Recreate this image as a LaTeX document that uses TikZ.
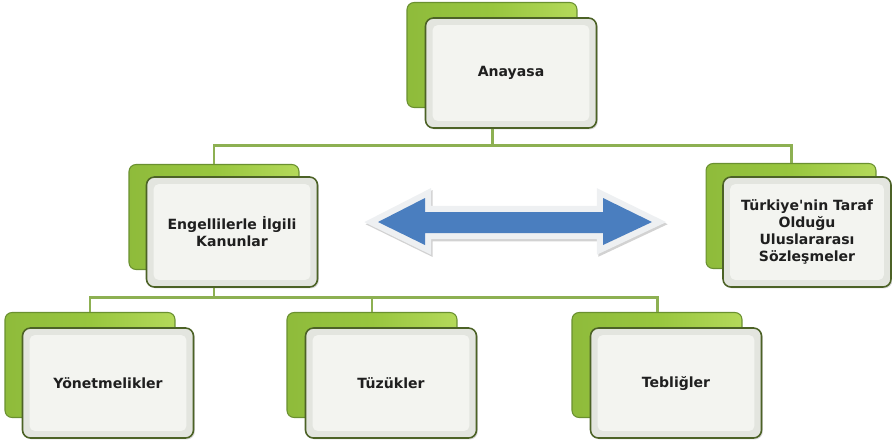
\documentclass[tikz,border=0pt]{standalone}
\usepackage{fontspec}
\setmainfont{DejaVu Sans}[Ligatures=TeXOff]
\usetikzlibrary{shadows}
\definecolor{leafgreen}{HTML}{98C63E}
\definecolor{leafdark}{HTML}{6A9030}
\definecolor{leaflight}{HTML}{B4D95A}
\definecolor{rimolive}{HTML}{4C6226}
\definecolor{paneledge}{HTML}{E3E5DF}
\definecolor{paneface}{HTML}{F3F4F0}
\definecolor{linkgreen}{HTML}{8DB052}
\definecolor{arrowblue}{HTML}{4A7EBF}
\definecolor{arrowrim}{HTML}{EEF0F2}
\tikzset{
  back/.style={draw=leafdark, line width=0.6pt, rounded corners=4pt,
    left color=leafgreen!80!leafdark, right color=leaflight, middle color=leafgreen,
    minimum width=3.40cm, minimum height=2.10cm},
  panel/.style={draw=rimolive, line width=0.9pt, rounded corners=4.5pt, fill=paneledge,
    minimum width=3.42cm, minimum height=2.20cm, align=center,
    font=\fontsize{8}{9.6}\selectfont\bfseries, text=black!88,
    drop shadow={opacity=0.3, shadow xshift=0.8pt, shadow yshift=-0.8pt},
    path picture={\fill[paneface, rounded corners=3pt]
      ([shift={(4pt,-4pt)}]path picture bounding box.north west) rectangle
      ([shift={(-4pt,4pt)}]path picture bounding box.south east);}},
  link/.style={draw=linkgreen, line width=1.7pt}
}
\begin{document}
\begin{tikzpicture}[x=0.02cm, y=-0.02cm]
  \useasboundingbox (0,0) rectangle (892,444);
  % green backs
  \draw
    (492,55) node[back] (anaBack) {}
    (214,217) node[back] (engBack) {}
    (791,216) node[back] (trBack) {}
    (90,365) node[back] (yonBack) {}
    (372,365) node[back] (tuzBack) {}
    (657,365) node[back] (tebBack) {};
  \coordinate (topBus) at (492,145);
  \coordinate (lowBus) at (214,297);
  \begin{scope}[link]
    \draw (anaBack.south) -- (topBus);
    \draw (topBus) -| (engBack.north);
    \draw (topBus) -| (trBack.north);
    \draw (engBack.south) -- (lowBus);
    \draw (lowBus) -| (yonBack.north);
    \draw (lowBus) -| (tuzBack.north);
    \draw (lowBus) -| (tebBack.north);
  \end{scope}
  % white panels
  \draw
    (511,73) node[panel] (ana) {Anayasa}
    (232,232) node[panel] (eng) {Engellilerle İlgili\\Kanunlar}
    (807,232) node[panel, minimum width=3.36cm] (tr) {Türkiye'nin Taraf\\Olduğu\\Uluslararası\\Sözleşmeler}
    (108,383) node[panel] (yon) {Yönetmelikler}
    (391,383) node[panel] (tuz) {Tüzükler}
    (676,383) node[panel] (teb) {Tebliğler};
  % double arrow
  \path[fill=arrowblue,
    preaction={draw=gray!35, line width=7pt, line join=miter, transform canvas={shift={(0.8pt,-1.2pt)}}},
    preaction={draw=arrowrim, line width=7pt, line join=miter}]
    (378,222) -- (425,198) -- (425,212) -- (603,212) -- (603,198) -- (652,222)
    -- (603,245) -- (603,233) -- (425,233) -- (425,245) -- cycle;
\end{tikzpicture}
\end{document}
